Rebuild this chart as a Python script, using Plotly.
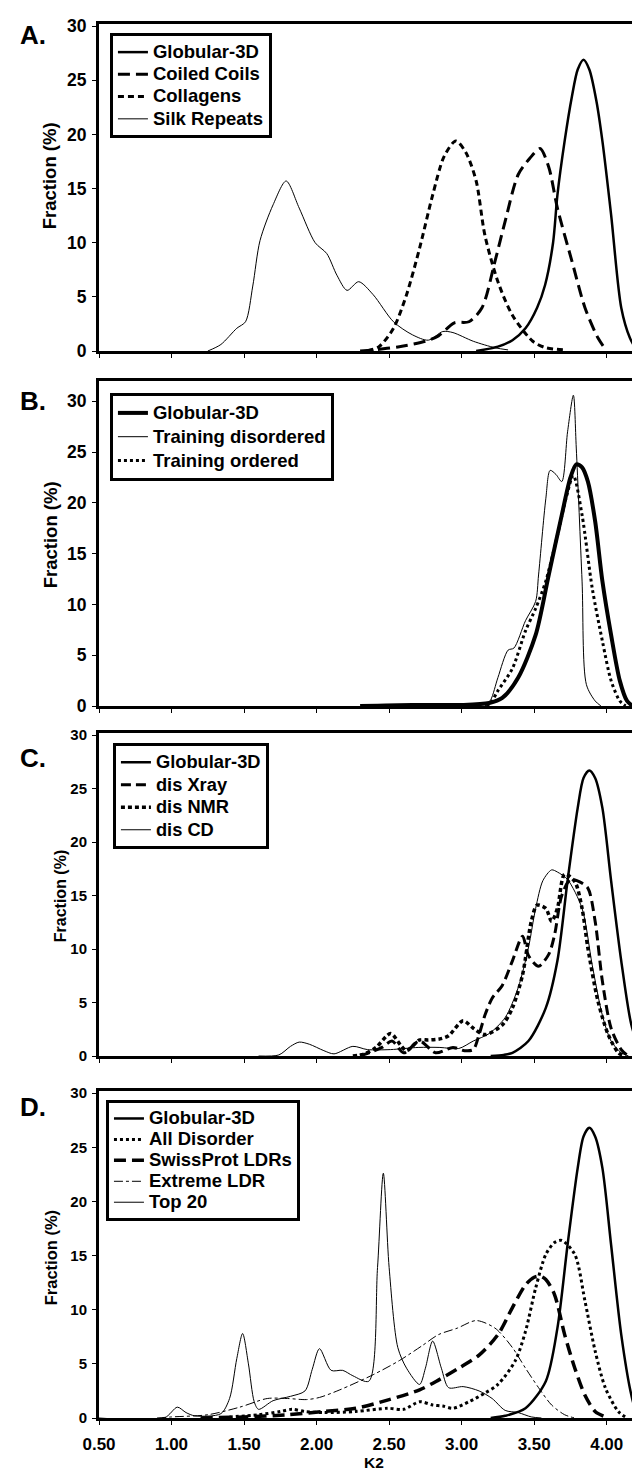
import plotly.graph_objects as go

# ---------------- Panel A ----------------
a_glob_x = [3.10, 3.25, 3.35, 3.44, 3.52, 3.575, 3.63, 3.66, 3.71, 3.76, 3.80, 3.84, 3.88, 3.93, 3.97, 4.03, 4.10, 4.16, 4.21]
a_glob_y = [0.0, 0.4, 1.0, 2.1, 4.0, 6.1, 10.0, 14.4, 19.4, 23.5, 26.0, 26.9, 26.0, 23.0, 19.4, 12.6, 4.0, 1.2, 0.0]
a_coil_x = [2.30, 2.39, 2.57, 2.75, 2.84, 2.95, 3.05, 3.14, 3.23, 3.30, 3.39, 3.47, 3.54, 3.60, 3.66, 3.76, 3.85, 3.94, 3.99]
a_coil_y = [0.0, 0.1, 0.4, 0.9, 1.4, 2.6, 2.7, 4.0, 8.3, 12.0, 16.3, 17.8, 18.7, 17.0, 13.2, 8.3, 4.0, 1.2, 0.2]
a_coll_x = [2.35, 2.43, 2.53, 2.62, 2.71, 2.80, 2.88, 2.96, 3.03, 3.10, 3.16, 3.25, 3.35, 3.49, 3.58, 3.72]
a_coll_y = [0.0, 0.4, 2.1, 5.2, 9.5, 14.4, 18.0, 19.4, 18.3, 15.7, 10.7, 6.4, 3.3, 0.9, 0.3, 0.1]
a_silk_x = [1.25, 1.34, 1.45, 1.51, 1.56, 1.61, 1.70, 1.79, 1.88, 1.99, 2.07, 2.14, 2.21, 2.29, 2.39, 2.53, 2.66, 2.77, 2.87, 2.94, 3.08, 3.23, 3.32]
a_silk_y = [0.0, 0.6, 2.1, 2.7, 6.0, 10.2, 13.5, 15.7, 13.2, 10.0, 9.0, 7.0, 5.6, 6.4, 5.2, 2.7, 1.5, 1.0, 1.8, 1.7, 0.9, 0.3, 0.1]

# ---------------- Panel B ----------------
b_glob_x = [2.30, 2.66, 3.00, 3.19, 3.28, 3.39, 3.51, 3.60, 3.69, 3.75, 3.79, 3.83, 3.87, 3.92, 3.97, 4.03, 4.09, 4.14, 4.18]
b_glob_y = [0.0, 0.1, 0.1, 0.3, 0.8, 2.8, 7.0, 12.9, 18.8, 22.5, 23.8, 23.5, 22.1, 18.2, 12.3, 7.0, 2.5, 0.5, 0.0]
b_dis_x = [3.16, 3.20, 3.25, 3.32, 3.36, 3.44, 3.51, 3.53, 3.58, 3.61, 3.65, 3.69, 3.73, 3.77, 3.79, 3.83, 3.86, 3.92, 3.96]
b_dis_y = [0.0, 0.6, 2.8, 5.5, 5.7, 8.4, 10.3, 12.9, 20.4, 23.2, 22.8, 22.1, 27.0, 30.6, 25.4, 12.3, 2.1, 0.5, 0.0]
b_ord_x = [3.17, 3.20, 3.25, 3.35, 3.44, 3.51, 3.58, 3.66, 3.72, 3.77, 3.83, 3.90, 3.97, 4.03, 4.09, 4.13]
b_ord_y = [0.0, 0.3, 1.5, 3.7, 7.4, 9.6, 12.3, 16.8, 20.5, 22.7, 18.8, 11.6, 6.4, 2.5, 0.5, 0.0]

# ---------------- Panel C ----------------
c_glob_x = [3.20, 3.29, 3.35, 3.46, 3.58, 3.66, 3.73, 3.80, 3.84, 3.88, 3.92, 3.97, 4.03, 4.10, 4.17, 4.23]
c_glob_y = [0.0, 0.1, 0.3, 1.4, 4.5, 8.9, 16.4, 23.2, 26.0, 26.7, 26.0, 23.2, 16.4, 8.9, 2.9, 0.5]
c_xray_x = [2.30, 2.45, 2.52, 2.60, 2.71, 2.82, 2.94, 3.02, 3.08, 3.12, 3.16, 3.21, 3.28, 3.35, 3.42, 3.46, 3.53, 3.60, 3.64, 3.69, 3.75, 3.81, 3.87, 3.92, 3.97, 4.03, 4.10, 4.15]
c_xray_y = [0.0, 0.8, 1.4, 0.3, 1.4, 0.3, 0.8, 0.5, 0.6, 2.0, 3.8, 5.4, 6.6, 8.9, 11.2, 9.4, 8.4, 9.5, 11.3, 15.0, 16.5, 16.3, 15.7, 12.6, 7.0, 2.6, 0.6, 0.0]
c_nmr_x = [2.25, 2.33, 2.41, 2.51, 2.58, 2.62, 2.71, 2.77, 2.85, 2.91, 3.01, 3.08, 3.16, 3.28, 3.35, 3.42, 3.48, 3.52, 3.58, 3.62, 3.66, 3.71, 3.78, 3.83, 3.87, 3.94, 4.01, 4.08, 4.12]
c_nmr_y = [0.0, 0.2, 0.8, 2.1, 1.0, 0.5, 1.5, 1.5, 1.6, 1.9, 3.3, 2.6, 2.0, 2.9, 4.5, 7.6, 12.6, 14.1, 13.8, 12.6, 13.8, 17.0, 16.3, 13.8, 10.1, 5.1, 2.0, 0.3, 0.0]
c_cd_x = [1.60, 1.74, 1.82, 1.88, 1.95, 2.05, 2.12, 2.25, 2.35, 2.51, 2.70, 2.85, 2.98, 3.08, 3.19, 3.30, 3.39, 3.46, 3.51, 3.56, 3.62, 3.66, 3.73, 3.83, 3.90, 3.97, 4.03, 4.10, 4.15]
c_cd_y = [0.0, 0.1, 0.9, 1.3, 1.1, 0.5, 0.2, 0.9, 0.6, 0.6, 0.8, 0.8, 0.7, 1.4, 2.1, 3.6, 6.4, 10.1, 13.8, 16.4, 17.4, 17.2, 16.5, 13.8, 8.5, 3.8, 1.4, 0.3, 0.0]

# ---------------- Panel D ----------------
d_glob_x = [3.20, 3.30, 3.44, 3.58, 3.66, 3.73, 3.80, 3.84, 3.88, 3.92, 3.97, 4.03, 4.10, 4.17, 4.21, 4.24]
d_glob_y = [0.0, 0.2, 0.9, 3.4, 8.3, 16.0, 23.1, 26.0, 26.8, 26.0, 23.1, 16.0, 7.7, 2.1, 0.3, 0.0]
d_all_x = [1.40, 1.60, 1.75, 1.83, 1.92, 2.05, 2.27, 2.49, 2.60, 2.71, 2.80, 2.87, 2.94, 3.05, 3.16, 3.25, 3.37, 3.44, 3.51, 3.58, 3.64, 3.69, 3.78, 3.85, 3.92, 3.99, 4.08, 4.14]
d_all_y = [0.1, 0.3, 0.6, 0.8, 0.6, 0.5, 0.6, 0.9, 0.8, 1.5, 1.2, 1.1, 0.9, 1.5, 2.3, 3.1, 5.3, 8.0, 12.0, 15.1, 16.2, 16.4, 15.1, 10.8, 6.2, 2.8, 0.6, 0.0]
d_swiss_x = [1.20, 1.50, 1.80, 2.05, 2.27, 2.50, 2.71, 2.84, 2.98, 3.12, 3.25, 3.35, 3.44, 3.50, 3.54, 3.58, 3.64, 3.71, 3.78, 3.85, 3.92, 3.99]
d_swiss_y = [0.0, 0.1, 0.3, 0.6, 0.9, 1.7, 2.6, 3.5, 4.6, 5.8, 7.7, 10.2, 12.3, 13.0, 13.1, 12.8, 11.4, 7.7, 4.6, 2.1, 0.6, 0.1]
d_ext_x = [0.90, 1.00, 1.25, 1.47, 1.66, 1.80, 1.93, 2.02, 2.16, 2.39, 2.57, 2.73, 2.84, 2.97, 3.10, 3.23, 3.35, 3.44, 3.53, 3.62, 3.71, 3.78]
d_ext_y = [0.0, 0.1, 0.3, 1.0, 1.8, 1.8, 1.7, 1.9, 2.6, 4.0, 5.3, 6.7, 7.7, 8.3, 9.0, 8.3, 6.5, 4.6, 2.8, 1.2, 0.3, 0.0]
d_top_x = [0.50, 0.95, 1.04, 1.10, 1.16, 1.34, 1.40, 1.45, 1.49, 1.53, 1.57, 1.60, 1.70, 1.82, 1.92, 1.97, 2.02, 2.10, 2.18, 2.25, 2.36, 2.42, 2.46, 2.50, 2.56, 2.62, 2.71, 2.75, 2.80, 2.86, 2.91, 3.01, 3.12, 3.21, 3.30, 3.39, 3.48, 3.55]
d_top_y = [0.0, 0.0, 1.0, 0.5, 0.2, 0.4, 1.8, 5.5, 7.8, 5.0, 1.5, 0.8, 1.6, 2.0, 2.5, 4.5, 6.4, 4.4, 4.4, 3.9, 3.4, 13.9, 22.6, 13.9, 6.5, 4.6, 3.1, 4.6, 7.1, 4.6, 2.8, 2.9, 2.5, 1.8, 0.7, 0.5, 0.1, 0.0]

x_ticks = [0.5, 1.0, 1.5, 2.0, 2.5, 3.0, 3.5, 4.0]
x_ticktext = ["0.50", "1.00", "1.50", "2.00", "2.50", "3.00", "3.50", "4.00"]

FONT = "Liberation Sans, Arial, Helvetica, sans-serif"
W, H = 640, 1472
ML, MR, MT, MB = 91, 2, 15, 62
PH = H - MT - MB


def py(p):
    return (H - MB - p) / PH


def px(p):
    return (p - ML) / (W - ML - MR)


# legend text size (rendered) per panel, and row-height font per panel
LEG_TEXT = [18.5, 18.5, 18.3, 18.5]
LEG_ROW = [14.8, 16.0, 15.0, 13.8]

fig = go.Figure()


def add(x, y, name, ax, width, dash="solid"):
    sfx = "" if ax == 1 else str(ax)
    fig.add_trace(go.Scatter(
        x=x, y=y, mode="lines",
        name='<span style="font-size:%spx">%s</span>' % (LEG_TEXT[ax - 1], name),
        line=dict(color="black", width=width, dash=dash, shape="spline", smoothing=0.8),
        xaxis="x" + sfx, yaxis="y" + sfx, legend="legend" + sfx,
    ))


add(a_glob_x, a_glob_y, "Globular-3D", 1, 2.5)
add(a_coil_x, a_coil_y, "Coiled Coils", 1, 3, "12px,6px")
add(a_coll_x, a_coll_y, "Collagens", 1, 3, "6px,4px")
add(a_silk_x, a_silk_y, "Silk Repeats", 1, 1)

add(b_glob_x, b_glob_y, "Globular-3D", 2, 4)
add(b_dis_x, b_dis_y, "Training disordered", 2, 1)
add(b_ord_x, b_ord_y, "Training ordered", 2, 3, "dot")

add(c_glob_x, c_glob_y, "Globular-3D", 3, 2.5)
add(c_xray_x, c_xray_y, "dis Xray", 3, 3, "10px,5px")
add(c_nmr_x, c_nmr_y, "dis NMR", 3, 3.5, "4px,3px")
add(c_cd_x, c_cd_y, "dis CD", 3, 1)

add(d_glob_x, d_glob_y, "Globular-3D", 4, 2.5)
add(d_all_x, d_all_y, "All Disorder", 4, 3, "dot")
add(d_swiss_x, d_swiss_y, "SwissProt LDRs", 4, 3.5, "12px,6px")
add(d_ext_x, d_ext_y, "Extreme LDR", 4, 1, "dashdot")
add(d_top_x, d_top_y, "Top 20", 4, 1)

panels = [
    # (bottom px, top px, yrange top, tick font size)
    (343, 16, 30.2, 17.5),
    (698, 373, 32.0, 17.5),
    (1048, 725, 30.2, 15),
    (1410, 1083, 30.2, 15),
]

layout = dict(
    width=W, height=H,
    margin=dict(l=ML, r=MR, t=MT, b=MB),
    paper_bgcolor="white", plot_bgcolor="white",
    font=dict(family=FONT, color="black"),
    showlegend=True,
)

for i, (bot, top, ytop, tfs) in enumerate(panels, start=1):
    sfx = "" if i == 1 else str(i)
    layout["xaxis" + sfx] = dict(
        domain=[0, 1], range=[0.5, 4.25], anchor="y" + sfx,
        showline=True, mirror=True, linewidth=3, linecolor="black",
        showgrid=False, zeroline=False,
        ticks="outside", ticklen=4, tickwidth=1, tickcolor="black",
        tickvals=x_ticks, ticktext=x_ticktext,
        showticklabels=(i == 4), ticklabelstandoff=5,
        tickfont=dict(family=FONT, size=17, weight="bold", color="black"),
    )
    layout["yaxis" + sfx] = dict(
        domain=[py(bot), py(top)], range=[0, ytop], anchor="x" + sfx,
        showline=True, mirror=True, linewidth=3, linecolor="black",
        showgrid=False, zeroline=False,
        ticks="outside", ticklen=4, tickwidth=1, tickcolor="black",
        dtick=5, tick0=0, ticklabelstandoff=2,
        tickfont=dict(family=FONT, size=tfs, weight="bold", color="black"),
    )

leg_pos = [(102, 25), (102, 385), (105, 735), (98, 1092)]
for i, (lx, ly) in enumerate(leg_pos, start=1):
    key = "legend" + ("" if i == 1 else str(i))
    layout[key] = dict(
        x=px(lx), y=py(ly), xanchor="left", yanchor="top",
        bgcolor="white", bordercolor="black", borderwidth=3,
        font=dict(family=FONT, size=LEG_ROW[i - 1], weight="bold", color="black"),
        itemwidth=30, tracegroupgap=0,
    )

fig.update_layout(**layout)

# panel letters
labels = [("A.", 27), ("B.", 393), ("C.", 750), ("D.", 1099)]
for txt, cy in labels:
    fig.add_annotation(text=txt, xref="paper", yref="paper", x=px(10), y=py(cy),
                       xanchor="left", yanchor="middle", showarrow=False,
                       font=dict(family=FONT, size=26, weight="bold", color="black"))

# y-axis titles
ytitles = [(42, 168, 18.5), (42, 527, 18.5), (53, 888, 16), (43, 1250, 16.5)]
for cx, cy, fs in ytitles:
    fig.add_annotation(text="Fraction (%)", xref="paper", yref="paper", x=px(cx), y=py(cy),
                       xanchor="center", yanchor="middle", textangle=-90, showarrow=False,
                       font=dict(family=FONT, size=fs, weight="bold", color="black"))

# x-axis title of the bottom panel
fig.add_annotation(text="K2", xref="paper", yref="paper", x=px(368), y=py(1465),
                   xanchor="center", yanchor="bottom", showarrow=False,
                   font=dict(family=FONT, size=15.5, weight="bold", color="black"))

fig.write_html("out.html")
